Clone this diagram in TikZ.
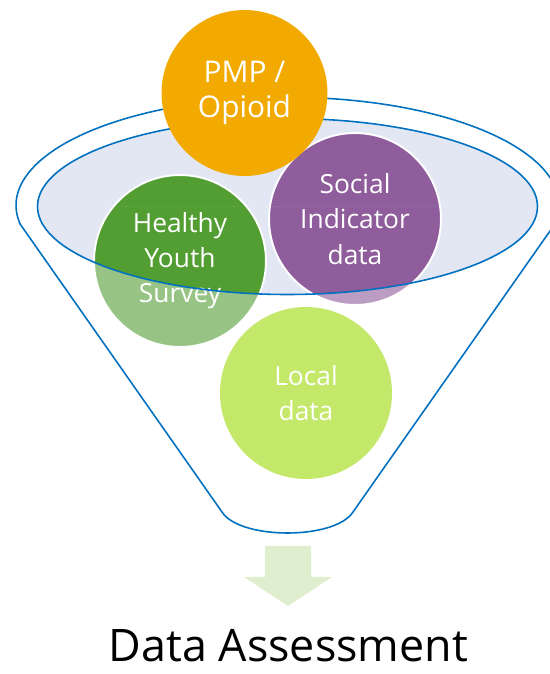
\documentclass[tikz,border=0pt]{standalone}
\usepackage{fontspec}
\setmainfont{Open Sans}
\usetikzlibrary{positioning}
\definecolor{funnelblue}{RGB}{0,112,192}
\definecolor{mouthfill}{RGB}{227,231,243}
\definecolor{pmporange}{RGB}{242,170,0}
\definecolor{socialpurple}{RGB}{143,93,155}
\definecolor{hysgreen}{RGB}{82,158,51}
\definecolor{locallime}{RGB}{157,217,7}
\definecolor{arrowgreen}{RGB}{222,238,206}
\tikzset{
  source/.style={circle, inner sep=0pt, minimum size=3.44cm, align=center,
    text=white, font=\fontsize{15}{20}\selectfont},
  ring/.style={draw=white, line width=1.1pt},
  rim/.style={draw=funnelblue, line width=0.9pt},
}

\begin{document}
\begin{tikzpicture}[x=0.02cm, y=0.02cm]
  \clip (0,0) rectangle (550,674);
  % funnel mouth
  \fill[mouthfill] (287.5,467.5) ellipse [x radius=250, y radius=88];
  % data sources
  \node[source, fill=hysgreen, ring] (hys) at (180,413) {Healthy\\Youth\\Survey};
  \node[source, fill=socialpurple, ring] (social) at (355,455) {Social\\Indicator\\data};
  \node[source, fill=locallime] (local) at (306,281) {Local\\data};
  % funnel body, faded below the mouth
  \path[save path=\funnelpath] (20.1,450) -- (222,162)
    .. controls (240,134) and (335,134) .. (353,162) -- (554.9,450)
    arc[start angle=-10, end angle=190, x radius=271.5, y radius=108] -- cycle;
  \begin{scope}
    \clip[use path=\funnelpath];
    \fill[white, opacity=.4, even odd rule] (0,0) rectangle (550,467.5)
      (37.5,467.5) arc[start angle=180, end angle=360, x radius=250, y radius=88] -- cycle;
  \end{scope}
  \draw[rim, use path=\funnelpath];
  \draw[rim] (287.5,467.5) ellipse [x radius=250, y radius=88];
  \node[source, fill=pmporange, minimum size=3.32cm,
    font=\fontsize{17}{20}\selectfont] (pmp) at (244.5,581) {PMP /\\Opioid};
  % result
  \fill[arrowgreen] (265,128) -- (311,128) -- (311,97) -- (332,97) -- (288,68)
    -- (244,97) -- (265,97) -- cycle;
  \node[anchor=base, font=\fontsize{25.5}{30}\selectfont] (assess) at (288.5,12) {Data Assessment};
\end{tikzpicture}
\end{document}
